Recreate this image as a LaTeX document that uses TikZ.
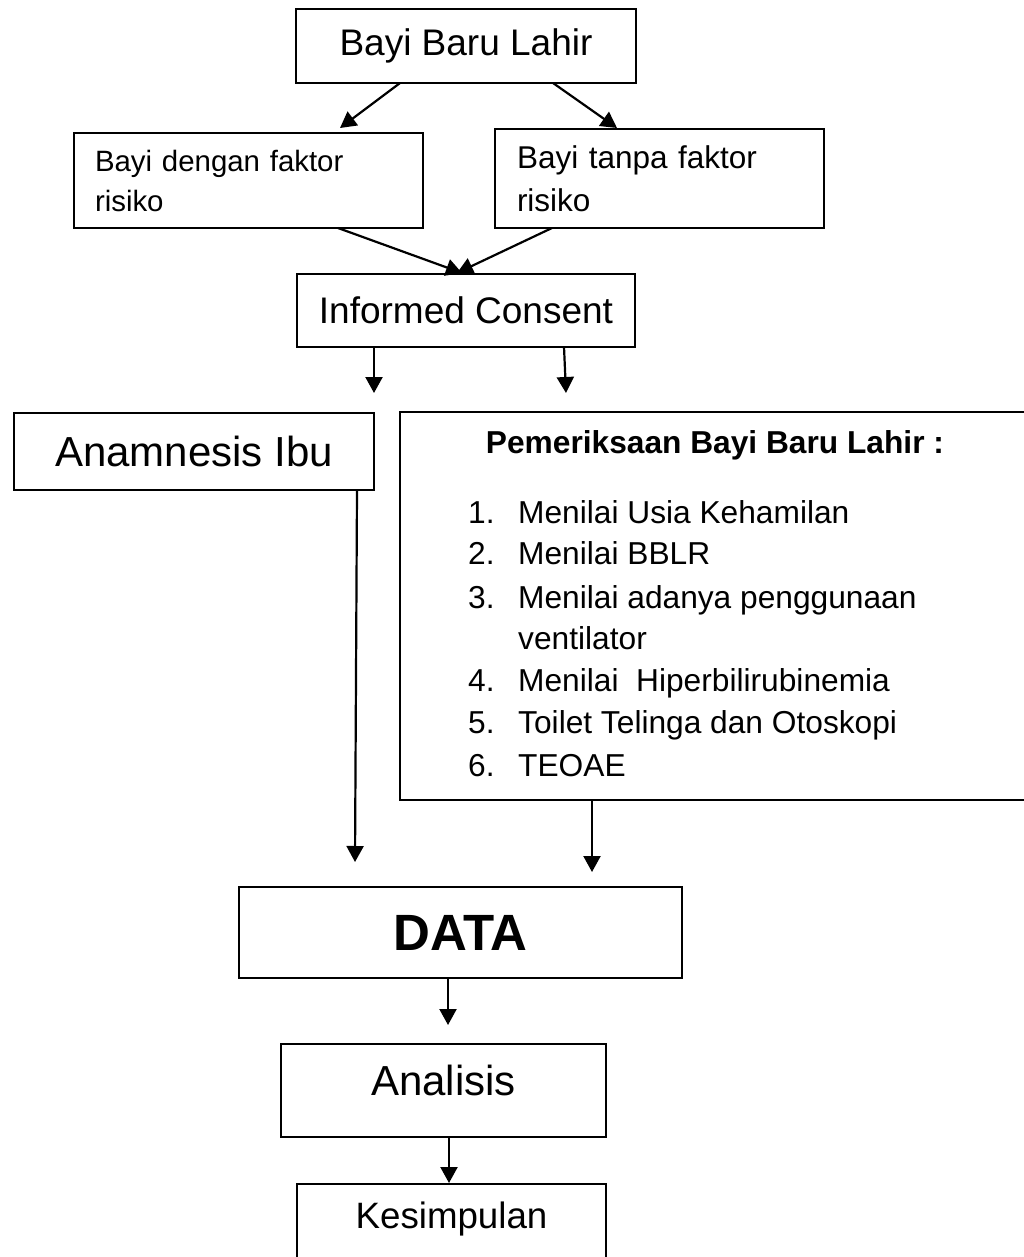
\documentclass[tikz,border=0pt]{standalone}
\usepackage{fontspec}
\setmainfont{Liberation Sans}
\usetikzlibrary{arrows.meta}

\begin{document}
\begin{tikzpicture}[x=1pt, y=-1pt, >={Triangle[length=16pt,width=17pt]},
  kotak/.style={draw, line width=2.4pt, inner sep=0pt, outer sep=0pt},
  panah/.style={line width=2.2pt, ->},
  teks/.style={font=\fontsize{31.7}{40}\selectfont, inner sep=0pt}]
  \useasboundingbox (0,0) rectangle (1024,1257);
  \clip (0,0) rectangle (1024,1257);

  % kotak-kotak alur
  \node[kotak, minimum width=340pt, minimum height=74pt, font=\fontsize{37}{44}\selectfont] (bbl) at (466,46) {Bayi Baru Lahir};
  \node[kotak, minimum width=349pt, minimum height=95pt, text width=307pt, inner xsep=21pt, align=left,
        font=\fontsize{29.4}{40}\selectfont] (dengan) at (248.5,180.5) {Bayi dengan faktor\\risiko};
  \node[kotak, minimum width=329pt, minimum height=99pt, text width=285pt, inner xsep=22pt, align=left,
        font=\fontsize{31.5}{43}\selectfont] (tanpa) at (659.5,178.5) {Bayi tanpa faktor\\risiko};
  \node[kotak, minimum width=338pt, minimum height=73pt, font=\fontsize{37}{44}\selectfont] (informed) at (466,310.5) {Informed Consent};
  \node[kotak, minimum width=360pt, minimum height=77pt, font=\fontsize{42}{48}\selectfont] (anam) at (194,451.5) {Anamnesis Ibu};
  \node[kotak, minimum width=640pt, minimum height=388pt] (periksa) at (720,606) {};
  \node[kotak, minimum width=443pt, minimum height=91pt, font=\bfseries\fontsize{51}{58}\selectfont] (data) at (460.5,932.5) {DATA};
  \node[kotak, minimum width=325pt, minimum height=93pt, text depth=20pt, font=\fontsize{42}{48}\selectfont] (analisis) at (443.5,1090.5) {Analisis};
  \node[kotak, minimum width=309pt, minimum height=106pt, text depth=44.6pt, font=\fontsize{36.7}{44}\selectfont] (simpul) at (451.5,1237) {Kesimpulan};

  % isi pemeriksaan
  \node[teks, font=\bfseries\fontsize{31.7}{40}\selectfont, anchor=base] (judul) at (715,453) {Pemeriksaan Bayi Baru Lahir :};
  \foreach \no/\y/\isi [count=\i] in {1./523/Menilai Usia Kehamilan, 2./564/Menilai BBLR,
      3./608/Menilai adanya penggunaan, /649/ventilator, 4./691/Menilai\ \ Hiperbilirubinemia,
      5./733/Toilet Telinga dan Otoskopi, 6./776/TEOAE}
  {
    \node[teks, anchor=base west] (no\i) at (468,\y) {\no};
    \node[teks, anchor=base west] (isi\i) at (518,\y) {\isi};
  }

  % panah
  \coordinate (ujungkiri) at (374,393);
  \coordinate (ujungkanan) at (566,393);
  \draw[panah] ([xshift=-66pt]bbl.south) -- ([xshift=91.5pt,yshift=5pt]dengan.north);
  \draw[panah] ([xshift=87pt]bbl.south) -- ([xshift=-42.5pt,yshift=1pt]tanpa.north);
  \draw[panah] ([xshift=89.5pt]dengan.south) -- ([xshift=-4pt,yshift=1pt]informed.north);
  \draw[panah] ([xshift=-107.5pt]tanpa.south) -- ([xshift=-9pt,yshift=1pt]informed.north);
  \draw[panah] ([xshift=-92pt]informed.south) -- (ujungkiri);
  \draw[panah] ([xshift=98pt]informed.south) -- (ujungkanan);
  \draw[panah] ([xshift=163pt]anam.south) -- ([xshift=-105.5pt,yshift=25pt]data.north);
  \draw[panah] ([xshift=-128pt]periksa.south) -- ([xshift=131.5pt,yshift=15pt]data.north);
  \draw[panah] ([xshift=-12.5pt]data.south) -- ([xshift=4.5pt,yshift=19pt]analisis.north);
  \draw[panah] ([xshift=5.5pt]analisis.south) -- ([xshift=-2.5pt,yshift=1pt]simpul.north);
\end{tikzpicture}
\end{document}
